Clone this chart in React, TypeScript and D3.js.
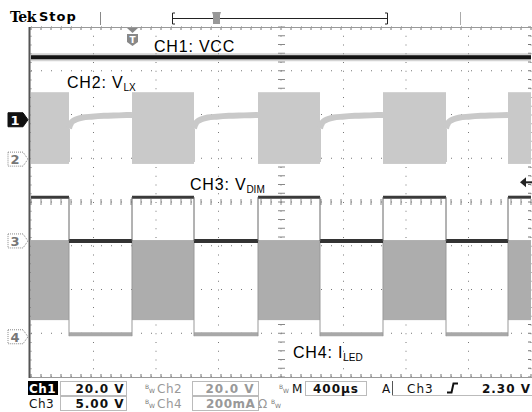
import React from 'react';
import * as d3 from 'd3';

const W = 532;
const H = 412;

// horizontal: 10 divisions at 400 µs/div
const timeDomain = [0, 4000];
// vertical: 8 divisions, levels given in divisions from centre
const divDomain = [4, -4];

// CH3 V_DIM high intervals (µs)
const dimHighStart = [0, 808, 1816, 2816, 3816];
const dimHighEnd = [304, 1304, 2312, 3320, 4000];

const ch1Level = 3.31;
const ch2BandTop = 2.51;
const ch2BandBottom = 0.87;
// CH2 recovery after switching stops (µs after falling edge, div)
const ch2RecoverOffset = [0, 6, 16, 32, 60, 110, 180, 280, 400, 520];
const ch2RecoverLevel = [1.68, 1.74, 1.8, 1.85, 1.89, 1.93, 1.95, 1.97, 1.98, 1.99];
const ch3High = 0.11;
const ch3Low = -0.89;
const ch4BandTop = -0.87;
const ch4BandBottom = -2.7;
const ch4Off = -3.02;

const markerNames = ['1', '2', '3', '4'];
const markerLevels = [1.88, 0.98, -0.89, -3.08];
const trigTime = 808;
const trigLevel = 0.45;

const x = d3.scaleLinear().domain(timeDomain).range([31, 531]);
const y = d3.scaleLinear().domain(divDomain).range([27, 377]);

const sans = 'Liberation Sans, Arial, sans-serif';
const stat = 'DejaVu Sans, sans-serif';

function Grid() {
  const xt = x.ticks(10);
  const yt = y.ticks(8);
  const minorX = d3.range(timeDomain[0], timeDomain[1] + 1, 80);
  const minorY = d3.range(-4, 4.01, 0.2);
  const cx = x(2000);
  const cy = y(0);
  return (
    <g>
      {xt.map((t) => (
        <line key={'vx' + t} x1={x(t)} x2={x(t)} y1={27} y2={377} stroke="#777" strokeWidth={1} strokeDasharray="1 7.75" />
      ))}
      {yt.map((v) => (
        <line key={'hy' + v} x1={31} x2={531} y1={y(v)} y2={y(v)} stroke="#777" strokeWidth={1} strokeDasharray="1 9" />
      ))}
      {minorY.map((v, i) => (
        <line key={'cty' + i} x1={cx - 3} x2={cx + 4} y1={y(v)} y2={y(v)} stroke="#888" />
      ))}
      {minorX.map((t, i) => (
        <g key={'ctx' + i}>
          <line x1={x(t)} x2={x(t)} y1={cy - 3} y2={cy + 3} stroke="#888" />
          <line x1={x(t)} x2={x(t)} y1={27} y2={30} stroke="#777" />
          <line x1={x(t)} x2={x(t)} y1={374} y2={377} stroke="#777" />
        </g>
      ))}
      {minorY.map((v, i) => (
        <line key={'rty' + i} x1={528} x2={531} y1={y(v)} y2={y(v)} stroke="#777" />
      ))}
      <line x1={29} x2={532} y1={27.5} y2={27.5} stroke="#999" />
      <line x1={29} x2={532} y1={377.5} y2={377.5} stroke="#999" />
      <line x1={29.5} x2={29.5} y1={27} y2={378} stroke="#555" strokeWidth={2} />
    </g>
  );
}

function Traces() {
  const highs = dimHighStart.map((s, i) => [s, dimHighEnd[i]]);
  const lows = dimHighEnd.slice(0, -1).map((e, i) => [e, dimHighStart[i + 1]]);
  const recover = d3
    .line<number>()
    .x((d) => x(d[0]))
    .y((d) => y(d[1]))
    .curve(d3.curveMonotoneX);
  return (
    <g>
      {/* CH1 VCC */}
      <line x1={31} x2={531} y1={y(ch1Level)} y2={y(ch1Level)} stroke="#aaa" strokeWidth={8} opacity={0.5} />
      <line x1={31} x2={531} y1={y(ch1Level)} y2={y(ch1Level)} stroke="#141414" strokeWidth={4} />
      {/* CH2 V_LX */}
      {highs.map(([s, e], i) => (
        <rect key={'b2' + i} x={x(s)} y={y(ch2BandTop)} width={x(e) - x(s)} height={y(ch2BandBottom) - y(ch2BandTop)} fill="#c9c9c9" />
      ))}
      {lows.map(([s, e], i) => {
        const pts = ch2RecoverOffset
          .map((o, j) => [s + o, ch2RecoverLevel[j]])
          .filter((p) => p[0] <= e);
        pts.push([e, ch2RecoverLevel[ch2RecoverLevel.length - 1]]);
        return (
          <g key={'r2' + i}>
            <path d={recover(pts as any) || ''} fill="none" stroke="#c9c9c9" strokeWidth={6} />
            <line x1={x(s)} x2={x(s)} y1={y(ch2BandBottom) - 2} y2={y(ch2RecoverLevel[0])} stroke="#c9c9c9" strokeWidth={2} />
          </g>
        );
      })}
      {/* CH4 I_LED */}
      {highs.map(([s, e], i) => (
        <rect key={'b4' + i} x={x(s)} y={y(ch4BandTop)} width={x(e) - x(s)} height={y(ch4BandBottom) - y(ch4BandTop)} fill="#adadad" />
      ))}
      {lows.map(([s, e], i) => (
        <g key={'l4' + i}>
          <line x1={x(s)} x2={x(e)} y1={y(ch4Off)} y2={y(ch4Off)} stroke="#a8a8a8" strokeWidth={4} />
          <line x1={x(s)} x2={x(s)} y1={y(ch4BandTop)} y2={y(ch4Off) + 2} stroke="#999" />
          <line x1={x(e)} x2={x(e)} y1={y(ch4BandTop)} y2={y(ch4Off) + 2} stroke="#999" />
        </g>
      ))}
      {/* CH3 V_DIM */}
      {highs.map(([s, e], i) => (
        <line key={'h3' + i} x1={x(s)} x2={x(e)} y1={y(ch3High)} y2={y(ch3High)} stroke="#3a3a3a" strokeWidth={3} />
      ))}
      {lows.map(([s, e], i) => (
        <g key={'lo3' + i}>
          <line x1={x(s)} x2={x(e)} y1={y(ch3Low)} y2={y(ch3Low)} stroke="#333" strokeWidth={4} />
          <line x1={x(s)} x2={x(s)} y1={y(ch3High)} y2={y(ch3Low)} stroke="#666" />
          <line x1={x(e)} x2={x(e)} y1={y(ch3High)} y2={y(ch3Low)} stroke="#666" />
        </g>
      ))}
    </g>
  );
}

function Markers() {
  const tx = x(trigTime);
  const ty = y(trigLevel);
  return (
    <g>
      {markerNames.map((n, i) => {
        const my = y(markerLevels[i]);
        const filled = i === 0;
        return (
          <g key={'m' + n}>
            <path
              d={`M8,${my - 7}H23L28,${my}L23,${my + 7}H8Z`}
              fill={filled ? '#111' : '#fff'}
              stroke={filled ? '#111' : '#888'}
              strokeDasharray={filled ? undefined : '1 1'}
            />
            <text x={15} y={my + 5} textAnchor="middle" fontFamily={stat} fontSize={13} fontWeight="bold" fill={filled ? '#fff' : '#777'}>
              {n}
            </text>
          </g>
        );
      })}
      {/* trigger position */}
      <path d={`M${tx - 5},28H${tx + 6}L${tx + 0.5},33Z`} fill="#888" />
      <path d={`M${tx - 5},34H${tx + 6}V42L${tx + 0.5},46L${tx - 5},42Z`} fill="#888" />
      <text x={tx + 0.5} y={43} textAnchor="middle" fontFamily={stat} fontSize={9} fontWeight="bold" fill="#fff">T</text>
      {/* trigger level */}
      <path d={`M520,${ty}L526,${ty - 5}V${ty + 5}Z`} fill="#222" />
      <line x1={525} x2={532} y1={ty} y2={ty} stroke="#222" strokeWidth={2} />
    </g>
  );
}

function Labels() {
  return (
    <g fontFamily={sans} fill="#000">
      <text x={154} y={52} fontSize={16} letterSpacing={0.8}>CH1: VCC</text>
      <text x={67} y={88} fontSize={16} letterSpacing={0.8}>
        CH2: V<tspan fontSize={10} dy={3} letterSpacing={0}>LX</tspan>
      </text>
      <text x={190} y={190} fontSize={16} letterSpacing={0.8}>
        CH3: V<tspan fontSize={10} dy={3} letterSpacing={0}>DIM</tspan>
      </text>
      <text x={293} y={358} fontSize={16} letterSpacing={0.8}>
        CH4: I<tspan fontSize={10} dy={3} letterSpacing={0}>LED</tspan>
      </text>
    </g>
  );
}

function Header() {
  return (
    <g>
      <text x={10} y={22} fontFamily="DejaVu Serif, serif" fontSize={14} fontWeight="bold" fill="#000" letterSpacing={-0.5}>Tek</text>
      <text x={39} y={21} fontFamily={stat} fontSize={13} fontWeight="bold" fill="#000" letterSpacing={1}>Stop</text>
      <line x1={100.5} x2={100.5} y1={12} y2={25} stroke="#888" />
      <line x1={173} x2={388} y1={18.5} y2={18.5} stroke="#222" />
      <path d="M175,13H172.5V24H175" fill="none" stroke="#222" />
      <path d="M385,13H387.5V24H385" fill="none" stroke="#222" />
      <path d="M212,12H221L220,15V24H213V15Z" fill="#999" />
      <line x1={460.5} x2={460.5} y1={12} y2={25} stroke="#aaa" />
    </g>
  );
}

function BW({ px, py }: { px: number; py: number }) {
  return (
    <text x={px} y={py - 4} fontFamily={stat} fontSize={6} fontWeight="normal" letterSpacing={0} fill="#777">
      B<tspan dy={4}>W</tspan>
    </text>
  );
}

function Status() {
  const r1 = 393;
  const r2 = 408;
  const box = (bx: number, by: number, bw: number) => (
    <rect x={bx + 0.5} y={by + 0.5} width={bw} height={14} fill="#fff" stroke="#bbb" />
  );
  return (
    <g fontFamily={stat} fontSize={12} fontWeight="bold" letterSpacing={1}>
      <rect x={28} y={381} width={30} height={14} fill="#000" />
      <text x={29} y={r1} fill="#fff" letterSpacing={0.5}>Ch1</text>
      {box(60, 381, 66)}
      <text x={100} y={r1} textAnchor="middle" fill="#111">20.0 V</text>
      <BW px={145} py={r1} />
      <text x={157} y={r1} fill="#999" fontWeight="normal" letterSpacing={0.5}>Ch2</text>
      {box(192, 381, 66)}
      <text x={230} y={r1} textAnchor="middle" fill="#999">20.0 V</text>
      <BW px={279} py={r1} />
      <text x={292} y={r1} fill="#111" fontWeight="normal" letterSpacing={0}>M</text>
      {box(305, 381, 61)}
      <text x={336} y={r1} textAnchor="middle" fill="#111">400µs</text>
      <text x={382} y={r1} fill="#111" fontWeight="normal" letterSpacing={0}>A</text>
      <line x1={392.5} x2={392.5} y1={381} y2={395} stroke="#555" />
      <line x1={392} x2={532} y1={395.5} y2={395.5} stroke="#bbb" />
      <text x={407} y={r1} fill="#111" fontWeight="normal">Ch3</text>
      <path d="M447,392.5H451.5L453.5,383.5H458" fill="none" stroke="#111" strokeWidth={2} />
      <text x={531} y={r1} textAnchor="end" fill="#111">2.30 V</text>

      <text x={29} y={r2} fill="#111" fontWeight="normal" letterSpacing={0.5}>Ch3</text>
      {box(60, 396, 66)}
      <text x={100} y={r2} textAnchor="middle" fill="#111">5.00 V</text>
      <BW px={145} py={r2} />
      <text x={157} y={r2} fill="#999" fontWeight="normal" letterSpacing={0.5}>Ch4</text>
      {box(192, 396, 66)}
      <text x={206} y={r2} fill="#999" letterSpacing={0.5}>200mA</text>
      <text x={258} y={r2} fill="#999" fontWeight="normal" letterSpacing={0}>Ω</text>
      <BW px={271} py={r2} />
    </g>
  );
}

export default function App() {
  return (
    <svg width={W} height={H} style={{ position: 'absolute', left: 0, top: 0, background: '#fff' }}>
      <rect width={W} height={H} fill="#fff" />
      <Header />
      <Grid />
      <Traces />
      <Markers />
      <Labels />
      <Status />
    </svg>
  );
}
